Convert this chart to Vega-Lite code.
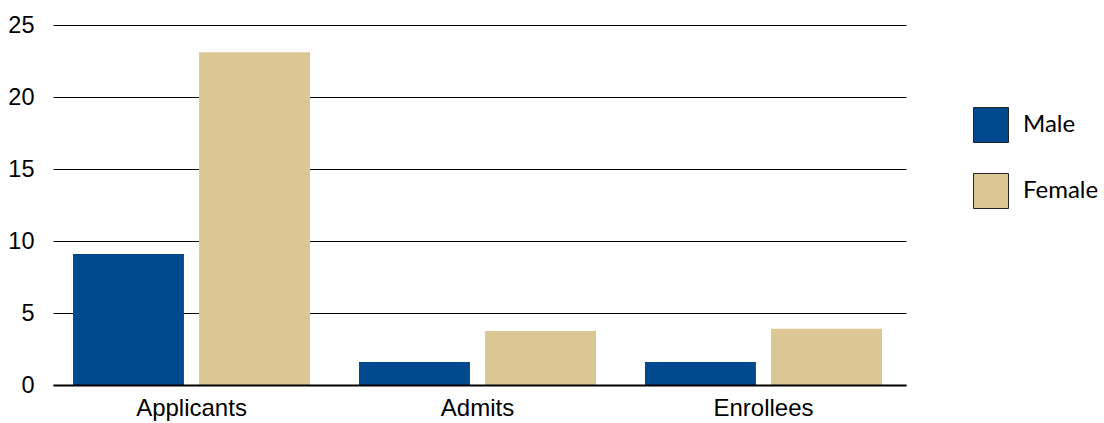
{
  "$schema": "https://vega.github.io/schema/vega-lite/v6.json",
  "width": 853,
  "height": 360,
  "autosize": "none",
  "padding": {"left": 53, "top": 25, "right": 198, "bottom": 38},
  "config": {"view": {"stroke": null}},
  "data": {"values": [
    {"stage": "Applicants", "sex": "Male", "value": 9.1},
    {"stage": "Applicants", "sex": "Female", "value": 23.1},
    {"stage": "Admits", "sex": "Male", "value": 1.6},
    {"stage": "Admits", "sex": "Female", "value": 3.75},
    {"stage": "Enrollees", "sex": "Male", "value": 1.6},
    {"stage": "Enrollees", "sex": "Female", "value": 3.9}
  ]},
  "mark": {"type": "bar"},
  "encoding": {
    "x": {
      "field": "stage", "type": "nominal",
      "sort": ["Applicants", "Admits", "Enrollees"],
      "scale": {"paddingInner": 0.1713, "paddingOuter": 0.077, "align": 0.4545},
      "axis": {"title": null, "labelAngle": 0, "domain": true, "domainColor": "#000", "domainWidth": 2, "ticks": false, "labelFont": "Liberation Sans", "labelFontSize": 24, "labelColor": "#000", "labelPadding": 11, "zindex": 1}
    },
    "xOffset": {"field": "sex", "type": "nominal", "sort": ["Male", "Female"], "scale": {"paddingInner": 0.12}},
    "y": {
      "field": "value", "type": "quantitative",
      "scale": {"domain": [0, 25]},
      "axis": {"title": null, "values": [0, 5, 10, 15, 20, 25], "domain": false, "ticks": false, "grid": true, "gridColor": "#000", "gridWidth": 1, "gridOpacity": 1, "labelFont": "Liberation Sans", "labelFontSize": 23.5, "labelPadding": 19, "labelColor": "#000"}
    },
    "color": {
      "field": "sex", "type": "nominal",
      "sort": ["Male", "Female"],
      "scale": {"domain": ["Male", "Female"], "range": ["#00498f", "#dbc793"]},
      "legend": {
        "title": null, "orient": "none", "legendX": 920, "legendY": 82,
        "symbolType": "square", "symbolSize": 1225, "symbolStrokeColor": "#222", "symbolStrokeWidth": 1, "symbolOpacity": 1,
        "labelFont": "Lato", "labelFontSize": 24, "labelColor": "#000", "labelOffset": 14, "rowPadding": 26
      }
    }
  }
}
